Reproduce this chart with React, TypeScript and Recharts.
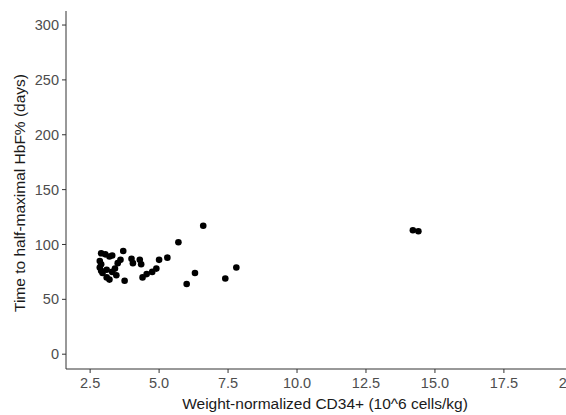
import React from "react";
import { ScatterChart, Scatter, XAxis, YAxis, Label } from "recharts";

const cd34Dose = [
  2.9, 3.05, 3.2, 3.3, 2.85, 2.9, 2.85, 2.9, 3.1, 3.3, 3.45, 3.1, 3.2, 3.6, 3.5, 3.7,
  3.75, 4.0, 4.05, 4.3, 4.35, 4.4, 4.55, 4.75, 4.9, 5.0, 5.3, 5.7, 6.6, 6.0, 6.3, 7.4,
  7.8, 14.2, 14.4, 2.95, 3.4,
];
const halfMaxDays = [
  92, 91, 89, 90, 85, 82, 79, 76, 77, 75, 72, 70, 68, 86, 83, 94,
  67, 87, 83, 86, 82, 70, 73, 75, 78, 86, 88, 102, 117, 64, 74, 69,
  79, 113, 112, 74, 78,
];
const xTicks = [2.5, 5, 7.5, 10, 12.5, 15, 17.5, 20];
const yTicks = [0, 50, 100, 150, 200, 250, 300];

const points = cd34Dose.map((x, i) => ({ x, y: halfMaxDays[i] }));

const FONT = "'Liberation Sans', Arial, Helvetica, sans-serif";

const Dot = (props: any) => (
  <circle cx={props.cx} cy={props.cy} r={3.3} fill="#000000" />
);

const YTitle = (props: any) => {
  const vb = props.viewBox || {};
  const cx = 19;
  const cy = vb.y + vb.height / 2 + 3;
  return (
    <text
      x={cx}
      y={cy}
      transform={`rotate(-90, ${cx}, ${cy})`}
      textAnchor="middle"
      dominantBaseline="central"
      fontSize={15.5}
      fontFamily={FONT}
      fill="#1a1a1a"
    >
      Time to half-maximal HbF% (days)
    </text>
  );
};

const XTitle = () => {
  const cx = 325;
  const cy = 403;
  return (
    <text
      x={cx}
      y={cy}
      textAnchor="middle"
      dominantBaseline="central"
      fontSize={15.5}
      fontFamily={FONT}
      fill="#1a1a1a"
    >
      Weight-normalized CD34+ (10^6 cells/kg)
    </text>
  );
};

export default function App() {
  return (
    <div
      style={{
        position: "fixed",
        left: 0,
        top: 0,
        width: 566,
        height: 415,
        overflow: "hidden",
        background: "#ffffff",
      }}
    >
      <ScatterChart
        width={600}
        height={415}
        margin={{ top: 11, right: 3, bottom: 0, left: 0 }}
      >
        <XAxis
          type="number"
          dataKey="x"
          domain={[1.625, 20.875]}
          ticks={xTicks}
          tickFormatter={(v: number) => v.toFixed(1)}
          allowDataOverflow
          height={46}
          tickSize={4}
          tickMargin={5}
          stroke="#333333"
          tick={{ fill: "#4d4d4d", fontSize: 14.5, fontFamily: FONT }}
        >
          <Label content={<XTitle />} />
        </XAxis>
        <XAxis
          xAxisId="top"
          orientation="top"
          type="number"
          dataKey="x"
          domain={[1.625, 20.875]}
          height={0}
          tick={false}
          tickLine={false}
          stroke="#333333"
        />
        <YAxis
          type="number"
          dataKey="y"
          domain={[-13.5, 312.8]}
          ticks={yTicks}
          allowDataOverflow
          width={66}
          tickSize={4}
          tickMargin={3}
          stroke="#333333"
          tick={{ fill: "#4d4d4d", fontSize: 14.5, fontFamily: FONT }}
        >
          <Label content={<YTitle />} />
        </YAxis>
        <Scatter
          data={points}
          shape={<Dot />}
          isAnimationActive={false}
        />
      </ScatterChart>
    </div>
  );
}
